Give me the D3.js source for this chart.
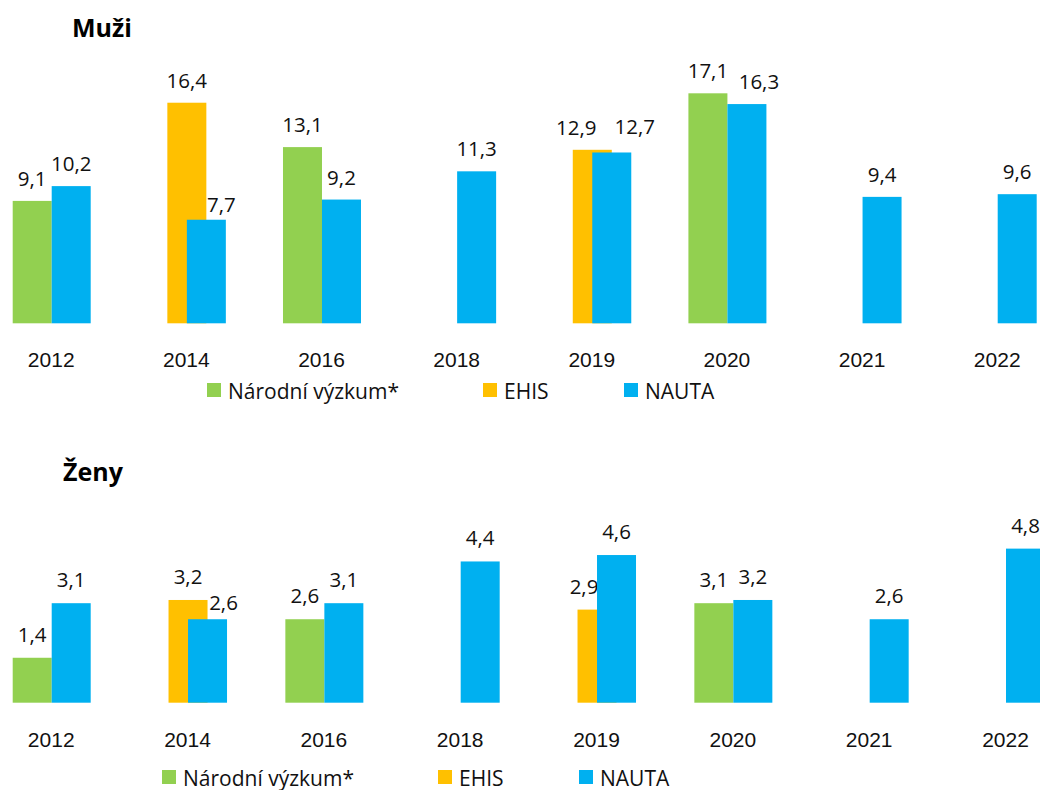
<!DOCTYPE html>
<html>
<head>
<meta charset="utf-8">
<script src="https://cdn.jsdelivr.net/npm/d3@7"></script>
<style>
  body { margin: 0; background: #fff; }
  svg { display: block; font-family: "Open Sans", "Noto Sans", sans-serif; }
  .tick text { font-size: 21px; fill: #111; }
  .val { font-size: 20.5px; fill: #111; text-anchor: middle; }
  .title { font-size: 25px; font-weight: 700; fill: #000; }
  .leg { font-size: 21px; fill: #111; }
</style>
</head>
<body>
<div id="chart"></div>
<script>
// DATA
// ------------------------------------------------------------------
var years = ["2012", "2014", "2016", "2018", "2019", "2020", "2021", "2022"];
var series = ["Národní výzkum*", "EHIS", "NAUTA"];
var colors = ["#92D050", "#FFC000", "#00B0F0"];

var muziNarodni = [9.1, null, 13.1, null, null, 17.1, null, null];
var muziEhis    = [null, 16.4, null, null, 12.9, null, null, null];
var muziNauta   = [10.2, 7.7, 9.2, 11.3, 12.7, 16.3, 9.4, 9.6];

var zenyNarodni = [1.4, null, 2.6, null, null, 3.1, null, null];
var zenyEhis    = [null, 3.2, null, null, 2.9, null, null, null];
var zenyNauta   = [3.1, 2.6, 3.1, 4.4, 4.6, 3.2, 2.6, 4.8];

// CANVAS
// ------------------------------------------------------------------
var width = 1040,
    height = 790;

var svg = d3.select("#chart")
    .append("svg")
    .attr("width", width)
    .attr("height", height);

var fmt = d3.formatLocale({ decimal: ",", thousands: " ", grouping: [3], currency: ["", ""] }).format(".1f");

// series sit half a bar apart, so they overlap like the Excel original
var barW = 39;
var seriesOffset = d3.scalePoint().domain(series).range([-barW / 2, barW / 2]);

// hand-moved data labels (dx, dy)
var labelNudge = {
  "muzi|2014|NAUTA": [15, 7],
  "muzi|2019|EHIS": [-16, 0],
  "muzi|2019|NAUTA": [23, -3],
  "muzi|2020|NAUTA": [12, 0],
  "zeny|2014|NAUTA": [16, 7],
  "zeny|2019|EHIS": [-13, 0]
};

// PANELS
// ------------------------------------------------------------------
function drawPanel(opts) {
  var g = svg.append("g");

  var xScale = d3.scalePoint().domain(years).range([opts.x0, opts.x1]);
  var yScale = d3.scaleLinear().domain([0, opts.yMax]).range([opts.base, opts.top]);

  g.append("text")
      .attr("class", "title")
      .attr("x", opts.titleX)
      .attr("y", opts.titleY)
      .text(opts.title);

  var values = [opts.narodni, opts.ehis, opts.nauta];

  series.forEach(function(s, si) {
    var pts = years.map(function(y, i) { return { year: y, v: values[si][i] }; })
        .filter(function(d) { return d.v != null; });

    g.selectAll(null)
        .data(pts)
        .enter().append("rect")
        .attr("x", function(d) { return xScale(d.year) + seriesOffset(s) - barW / 2; })
        .attr("y", function(d) { return yScale(d.v); })
        .attr("width", barW)
        .attr("height", function(d) { return yScale(0) - yScale(d.v); })
        .attr("fill", colors[si]);

    g.selectAll(null)
        .data(pts)
        .enter().append("text")
        .attr("class", "val")
        .attr("x", function(d) {
          var n = labelNudge[opts.key + "|" + d.year + "|" + s];
          return xScale(d.year) + seriesOffset(s) + (n ? n[0] : 0);
        })
        .attr("y", function(d) {
          var n = labelNudge[opts.key + "|" + d.year + "|" + s];
          return yScale(d.v) - opts.labelGap + (n ? n[1] : 0);
        })
        .text(function(d) { return fmt(d.v); });
  });

  // category axis, no line or ticks
  var ax = g.append("g")
      .attr("transform", "translate(-1," + opts.base + ")")
      .call(d3.axisBottom(xScale).tickSize(0).tickPadding(28));
  ax.select(".domain").remove();
  ax.selectAll(".tick text").attr("dy", 0).attr("y", 44);

  // legend
  var legOffsets = [0, 276, 417];
  var leg = g.append("g").attr("transform", "translate(" + opts.legX + "," + opts.legY + ")");
  series.forEach(function(s, si) {
    leg.append("rect")
        .attr("x", legOffsets[si])
        .attr("y", 0)
        .attr("width", 14)
        .attr("height", 14)
        .attr("fill", colors[si]);
    leg.append("text")
        .attr("class", "leg")
        .attr("x", legOffsets[si] + 21)
        .attr("y", 15.5)
        .text(s);
  });
}

drawPanel({
  key: "muzi", title: "Muži", titleX: 72, titleY: 37,
  narodni: muziNarodni, ehis: muziEhis, nauta: muziNauta,
  x0: 51.7, x1: 997.7, base: 323.3, top: 81.2, yMax: 18, labelGap: 15,
  legX: 207, legY: 383
});

drawPanel({
  key: "zeny", title: "Ženy", titleX: 63, titleY: 481,
  narodni: zenyNarodni, ehis: zenyEhis, nauta: zenyNauta,
  x0: 51.7, x1: 1006, base: 702.7, top: 542.2, yMax: 5, labelGap: 16,
  legX: 162, legY: 770
});
</script>
</body>
</html>
